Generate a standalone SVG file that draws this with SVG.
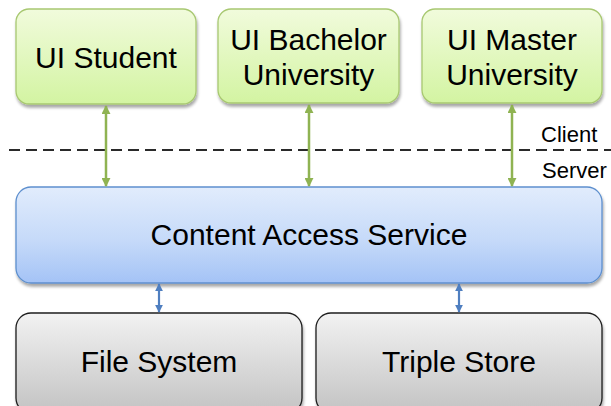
<svg xmlns="http://www.w3.org/2000/svg" width="611" height="406" viewBox="0 0 611 406">
  <defs>
    <linearGradient id="gGreen" x1="0" y1="0" x2="0" y2="1">
      <stop offset="0" stop-color="#f1fbdc"/>
      <stop offset="1" stop-color="#d3f4a2"/>
    </linearGradient>
    <linearGradient id="gBlue" x1="0" y1="0" x2="0" y2="1">
      <stop offset="0" stop-color="#e1ecfc"/>
      <stop offset="0.55" stop-color="#c6daf9"/>
      <stop offset="1" stop-color="#a4c3f6"/>
    </linearGradient>
    <linearGradient id="gGray" x1="0" y1="0" x2="0" y2="1">
      <stop offset="0" stop-color="#f2f2f2"/>
      <stop offset="1" stop-color="#c3c3c3"/>
    </linearGradient>
    <filter id="shadow" x="-10%" y="-10%" width="120%" height="130%">
      <feGaussianBlur in="SourceAlpha" stdDeviation="1.6"/>
      <feOffset dx="1" dy="2.5" result="b"/>
      <feComponentTransfer><feFuncA type="linear" slope="0.35"/></feComponentTransfer>
      <feMerge><feMergeNode/><feMergeNode in="SourceGraphic"/></feMerge>
    </filter>
    <marker id="arrG" viewBox="0 0 10 10" refX="9" refY="5" markerWidth="9" markerHeight="9" orient="auto-start-reverse" markerUnits="userSpaceOnUse">
      <path d="M0,0 L10,5 L0,10 z" fill="#8fb352"/>
    </marker>
    <marker id="arrB" viewBox="0 0 10 10" refX="9" refY="5" markerWidth="8" markerHeight="8" orient="auto-start-reverse" markerUnits="userSpaceOnUse">
      <path d="M0,0 L10,5 L0,10 z" fill="#4f7fc0"/>
    </marker>
  </defs>
  <style>
    text { font-family: "Liberation Sans", Arial, sans-serif; fill: #000; text-anchor: middle; }
    .big { font-size: 30px; }
    .side { font-size: 22px; text-anchor: start; }
    .green { fill: url(#gGreen); stroke: #a8c871; stroke-width: 1.3; }
    .blue { fill: url(#gBlue); stroke: #5d8fce; stroke-width: 1.3; }
    .gray { fill: url(#gGray); stroke: #1e1e1e; stroke-width: 1.3; }
    .lg { stroke: #8fb352; stroke-width: 2.5; fill: none; }
    .lb { stroke: #4f7fc0; stroke-width: 2.2; fill: none; }
  </style>

  <rect width="611" height="406" fill="#ffffff"/>

  <!-- client / server boundary -->
  <g id="boundary">
    <line x1="9" y1="150" x2="611" y2="150" stroke="#2a2a2a" stroke-width="2" stroke-dasharray="11 6"/>
    <text class="side" x="541" y="142">Client</text>
    <text class="side" x="542" y="178">Server</text>
  </g>

  <g id="ui-student">
    <rect class="green" x="16" y="9" width="180" height="95" rx="13" filter="url(#shadow)"/>
    <text class="big" x="106" y="68">UI Student</text>
  </g>

  <g id="ui-bachelor">
    <rect class="green" x="218" y="9" width="181" height="94" rx="13" filter="url(#shadow)"/>
    <text class="big" x="308.5" y="50">UI Bachelor</text>
    <text class="big" x="308.5" y="85">University</text>
  </g>

  <g id="ui-master">
    <rect class="green" x="422" y="9" width="180" height="94" rx="13" filter="url(#shadow)"/>
    <text class="big" x="512" y="50">UI Master</text>
    <text class="big" x="512" y="85">University</text>
  </g>

  <g id="content-access-service">
    <rect class="blue" x="16" y="187" width="586" height="96" rx="15" filter="url(#shadow)"/>
    <text class="big" x="309" y="245">Content Access Service</text>
  </g>

  <g id="file-system">
    <rect class="gray" x="16" y="313" width="286" height="100" rx="15" filter="url(#shadow)"/>
    <text class="big" x="159" y="372">File System</text>
  </g>

  <g id="triple-store">
    <rect class="gray" x="316" y="313" width="286" height="100" rx="15" filter="url(#shadow)"/>
    <text class="big" x="459" y="372">Triple Store</text>
  </g>

  <g id="connectors">
    <line class="lg" x1="106" y1="106" x2="106" y2="186" marker-start="url(#arrG)" marker-end="url(#arrG)"/>
    <line class="lg" x1="309" y1="105" x2="309" y2="186" marker-start="url(#arrG)" marker-end="url(#arrG)"/>
    <line class="lg" x1="512" y1="105" x2="512" y2="186" marker-start="url(#arrG)" marker-end="url(#arrG)"/>
    <line class="lb" x1="159" y1="284" x2="159" y2="312" marker-start="url(#arrB)" marker-end="url(#arrB)"/>
    <line class="lb" x1="459" y1="284" x2="459" y2="312" marker-start="url(#arrB)" marker-end="url(#arrB)"/>
  </g>
</svg>
